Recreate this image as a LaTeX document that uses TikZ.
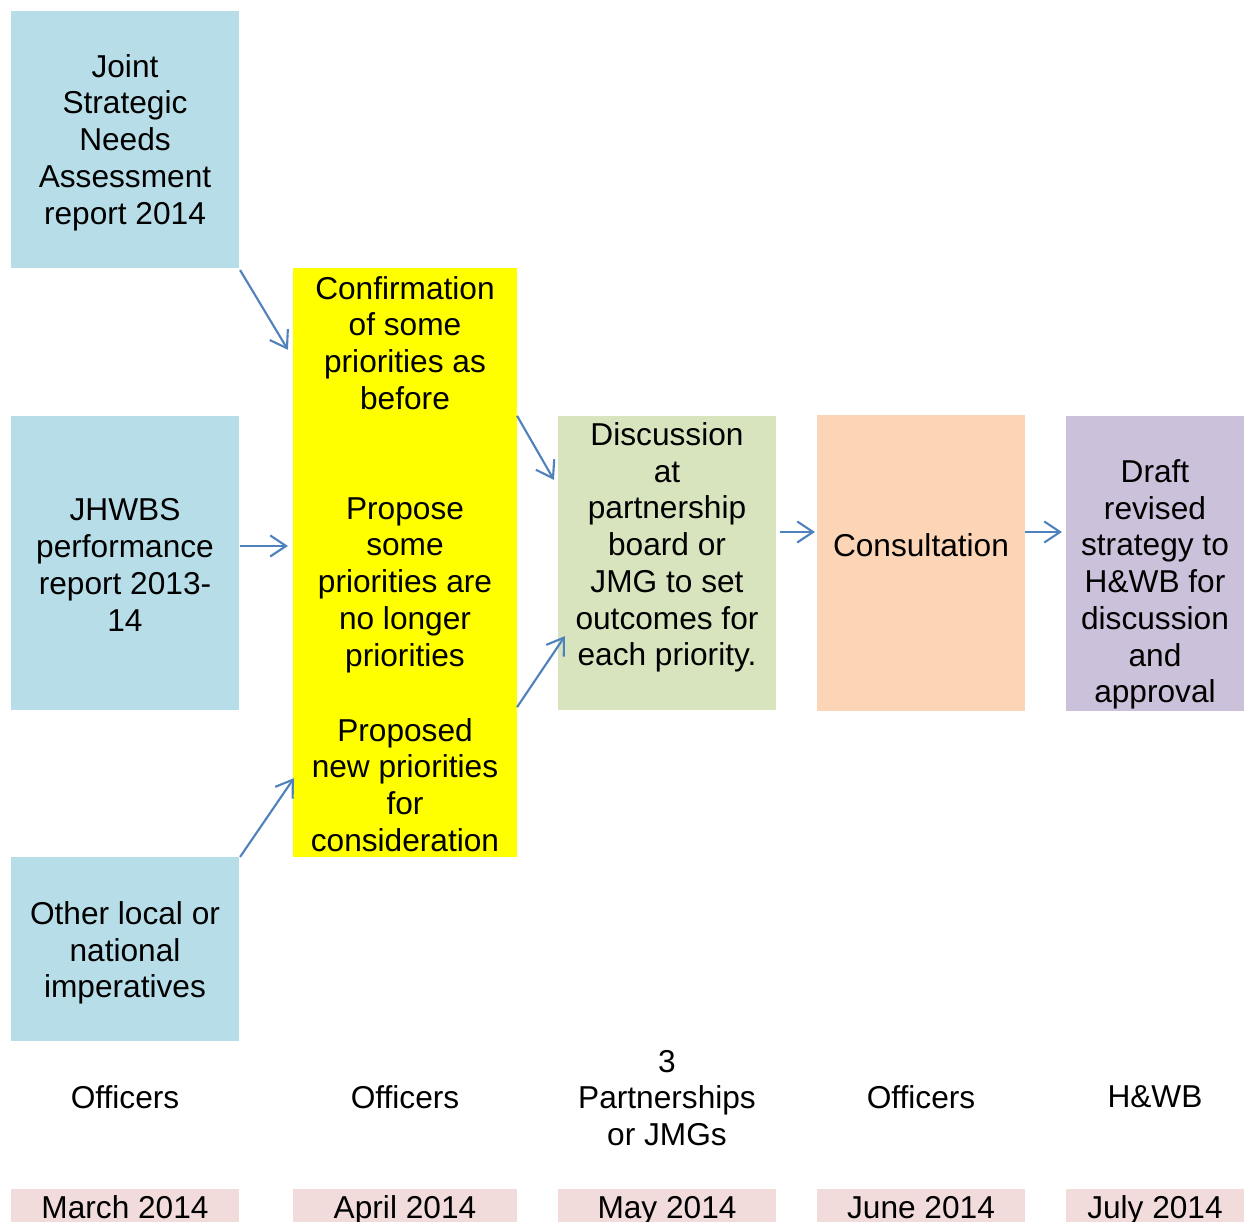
\documentclass[tikz,border=0pt]{standalone}
\usepackage{fontspec}
\setmainfont{Liberation Sans}
\usetikzlibrary{arrows.meta, calc}
\definecolor{boxblue}{HTML}{B7DEE8}
\definecolor{boxyellow}{HTML}{FFFF00}
\definecolor{boxgreen}{HTML}{D7E4BD}
\definecolor{boxorange}{HTML}{FBD5B5}
\definecolor{boxpurple}{HTML}{CCC1DA}
\definecolor{datepink}{HTML}{F2DCDB}
\definecolor{arrowblue}{HTML}{4F81BD}

\begin{document}
\begin{tikzpicture}[x=0.01cm, y=-0.01cm, >={Straight Barb[length=4.5pt,width=6pt]}]
		\tikzset{
			box/.style={rectangle, inner sep=0pt, outer sep=0pt, align=center, font=\fontsize{9}{10.45}\selectfont},
			txt/.style={inner sep=0pt, align=center, font=\fontsize{9}{10.45}\selectfont},
			datebox/.style={box, fill=datepink, minimum height=0.42cm, text height=6.6pt, text depth=1.9pt},
			flow/.style={->, draw=arrowblue, line width=0.6pt}
		}
		\useasboundingbox[fill=white] (0,0) rectangle (1244,1222);
		
		% Eingaben
		\node[box, fill=boxblue, minimum width=2.28cm, minimum height=2.57cm] (jsna) at (125,139.5) {};
		\node[txt] (jsnatxt) at (125,142.5) {Joint\\Strategic\\Needs\\Assessment\\report 2014};
		\node[box, fill=boxblue, minimum width=2.28cm, minimum height=2.94cm] (jhwbs) at (125,563) {};
		\node[txt] (jhwbstxt) at (125,565) {JHWBS\\performance\\report 2013-\\14};
		\node[box, fill=boxblue, minimum width=2.28cm, minimum height=1.84cm] (other) at (125,949) {};
		\node[txt] (othertxt) at (125,953) {Other local or\\national\\imperatives};
		
		% Prioritaeten
		\node[box, fill=boxyellow, minimum width=2.24cm, minimum height=5.89cm] (prio) at (405,562.5) {};
		\node[txt] (conf) at (405,343) {Confirmation\\of some\\priorities as\\before};
		\node[txt] (prop) at (405,585) {Propose\\some\\priorities are\\no longer\\priorities};
		\node[txt] (newp) at (405,785) {Proposed\\new priorities\\for\\consideration};
		
		% Schritte
		\node[box, fill=boxgreen, minimum width=2.18cm, minimum height=2.94cm] (green) at (667,563) {};
		\node[txt] (disc) at (667,547.5) {Discussion\\at\\partnership\\board or\\JMG to set\\outcomes for\\each priority.};
		\node[box, fill=boxorange, minimum width=2.08cm, minimum height=2.96cm] (orange) at (921,563) {};
		\node[txt] (cons) at (921,545) {Consultation};
		\node[box, fill=boxpurple, minimum width=1.78cm, minimum height=2.95cm] (purple) at (1155,563.5) {};
		\node[txt] (draft) at (1155,584.5) {Draft\\revised\\strategy to\\H\&WB for\\discussion\\and\\approval};
		
		% Pfeile
		\draw[flow] ($(jsna.south east)+(1,2)$) -- ($(prio.north west)+(-5,82)$);
		\draw[flow] ($(jhwbs.east)+(1,-17)$) -- ($(prio.west)+(-5,-16.5)$);
		\draw[flow] ($(other.north east)+(1,0)$) -- ($(prio.south west)+(1,-79)$);
		\draw[flow] ($(prio.north east)+(0,148)$) -- ($(green.north west)+(-4,64)$);
		\draw[flow] ($(prio.south east)+(0,-150)$) -- ($(green.south west)+(7,-74)$);
		\draw[flow] ($(green.east)+(4,-31)$) -- ($(orange.west)+(-2,-31)$);
		\draw[flow] ($(orange.east)+(0,-31)$) -- ($(purple.west)+(-4,-31.5)$);
		
		% Beteiligte
		\node[txt] (role1) at (125,1097) {Officers};
		\node[txt] (role2) at (405,1097) {Officers};
		\node[txt] (role3) at (667,1098) {3\\Partnerships\\or JMGs};
		\node[txt] (role4) at (921,1097) {Officers};
		\node[txt] (role5) at (1155,1097) {H\&WB};
		
		% Monate
		\node[datebox, minimum width=2.28cm] (date1) at (125,1210) {March 2014};
		\node[datebox, minimum width=2.24cm] (date2) at (405,1210) {April 2014};
		\node[datebox, minimum width=2.18cm] (date3) at (667,1210) {May 2014};
		\node[datebox, minimum width=2.08cm] (date4) at (921,1210) {June 2014};
		\node[datebox, minimum width=1.78cm] (date5) at (1155,1210) {July 2014};
	\end{tikzpicture}
\end{document}
